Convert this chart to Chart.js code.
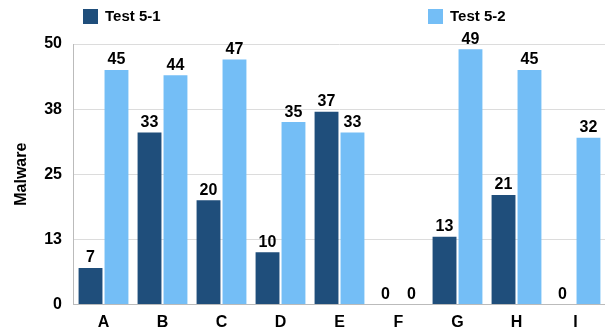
<!DOCTYPE html>
<html>
<head>
<meta charset="utf-8">
<script src="https://cdn.jsdelivr.net/npm/chart.js@4/dist/chart.umd.min.js"></script>
<style>
html,body{margin:0;padding:0;background:#fff;}
#wrap{width:605px;height:333px;}
</style>
</head>
<body>
<div id="wrap"><canvas id="c" width="605" height="333"></canvas></div>
<script>
const categories = ["A","B","C","D","E","F","G","H","I"];
const test51 = [7,33,20,10,37,0,13,21,0];
const test52 = [45,44,47,35,33,0,49,45,32];
const seriesNames = ["Test 5-1","Test 5-2"];
const yTicks = [0,12.5,25,37.5,50];
const FONT = '"Liberation Sans", Arial, sans-serif';

const valueLabels = {
  id:'valueLabels',
  afterDatasetsDraw(chart){
    const ctx = chart.ctx;
    ctx.save();
    ctx.font = 'bold 16px ' + FONT;
    ctx.fillStyle = '#000';
    ctx.textAlign = 'center';
    ctx.textBaseline = 'bottom';
    chart.data.datasets.forEach((ds,i)=>{
      const meta = chart.getDatasetMeta(i);
      meta.data.forEach((el,j)=>{
        ctx.fillText(String(ds.data[j]), el.x, el.y - 2);
      });
    });
    ctx.restore();
  }
};

const splitLegend = {
  id:'splitLegend',
  afterDraw(chart){
    const ctx = chart.ctx;
    const xs = [83, 428];
    ctx.save();
    ctx.font = 'bold 15px ' + FONT;
    ctx.textBaseline = 'middle';
    ctx.textAlign = 'left';
    chart.data.datasets.forEach((ds,i)=>{
      ctx.fillStyle = ds.backgroundColor;
      ctx.fillRect(xs[i], 9, 15, 15);
      ctx.fillStyle = '#000';
      ctx.fillText(ds.label, xs[i] + 22, 17);
    });
    ctx.restore();
  }
};

new Chart(document.getElementById('c'),{
  type:'bar',
  data:{
    labels:categories,
    datasets:[
      {label:seriesNames[0],data:test51,backgroundColor:'#1f4e7b',categoryPercentage:0.88,barPercentage:0.92},
      {label:seriesNames[1],data:test52,backgroundColor:'#74bef6',categoryPercentage:0.88,barPercentage:0.92}
    ]
  },
  options:{
    responsive:false,
    animation:false,
    layout:{padding:{left:12,right:0,top:44,bottom:-7}},
    plugins:{
      legend:{display:false},
      tooltip:{enabled:false}
    },
    scales:{
      x:{
        grid:{display:false,drawTicks:false},
        border:{color:'#bbb'},
        ticks:{font:{family:FONT,size:16,weight:'bold',lineHeight:1.1},color:'#000',padding:9}
      },
      y:{
        min:0,max:50,
        afterBuildTicks(axis){axis.ticks = yTicks.map(v=>({value:v}));},
        grid:{color:'#dcdcdc',drawTicks:false},
        border:{color:'#bbb'},
        ticks:{font:{family:FONT,size:16,weight:'bold'},color:'#000',padding:12,
          callback:(v)=>String(Math.round(v))},
        title:{display:true,text:'Malware',font:{family:FONT,size:16,weight:'bold'},color:'#000',padding:{top:0,bottom:1}}
      }
    }
  },
  plugins:[valueLabels, splitLegend]
});
</script>
</body>
</html>
